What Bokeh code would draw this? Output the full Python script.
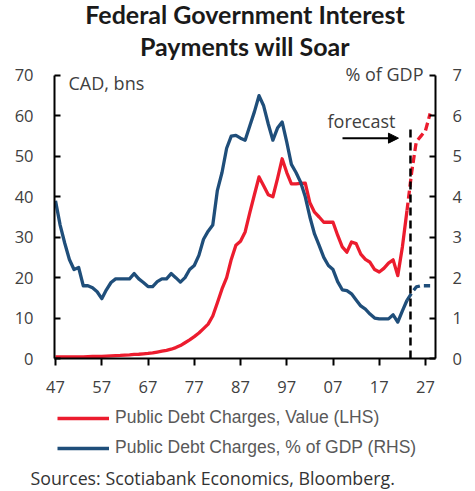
from bokeh.plotting import figure
from bokeh.layouts import column
from bokeh.models import (Range1d, LinearAxis, FixedTicker, Label, Arrow,
                          NormalHead, Legend, LegendItem, Title)
from bokeh.embed import file_html
from bokeh.resources import INLINE

# ---------------- data ----------------
years = list(range(1947, 2024))
value_bn = [
    0.4, 0.4, 0.4, 0.4, 0.4, 0.4, 0.4, 0.45, 0.5, 0.5,          # 47-56
    0.55, 0.6, 0.65, 0.7, 0.75, 0.85, 0.9, 1.0, 1.05, 1.15,      # 57-66
    1.25, 1.4, 1.6, 1.8, 2.0, 2.3, 2.7, 3.2, 3.9, 4.6,           # 67-76
    5.4, 6.3, 7.4, 8.5, 10.5, 13.8, 17.2, 20.0, 24.5, 28.0,      # 77-86
    29.0, 31.3, 36.0, 40.5, 44.9, 42.7, 40.5, 40.0, 44.5, 49.4,  # 87-96
    46.0, 43.2, 43.2, 43.3, 43.4, 38.5, 36.2, 35.0, 33.7, 33.7,  # 97-06
    33.7, 30.5, 27.6, 26.3, 28.8, 28.4, 25.8, 24.5, 23.8, 22.0,  # 07-16
    21.4, 22.3, 23.6, 24.4, 20.5, 27.6, 36.6,                    # 17-23
]
pct_gdp = [
    3.9, 3.3, 2.85, 2.45, 2.2, 2.25, 1.8, 1.8, 1.75, 1.65,       # 47-56
    1.48, 1.7, 1.88, 1.97, 1.97, 1.97, 1.97, 2.1, 1.97, 1.88,    # 57-66
    1.78, 1.78, 1.9, 1.97, 1.97, 2.1, 2.0, 1.89, 2.0, 2.2,       # 67-76
    2.3, 2.55, 2.95, 3.15, 3.3, 4.16, 4.6, 5.2, 5.5, 5.52,       # 77-86
    5.45, 5.4, 5.75, 6.1, 6.5, 6.25, 5.8, 5.4, 5.7, 5.85,        # 87-96
    5.35, 4.8, 4.6, 4.36, 4.0, 3.5, 3.08, 2.8, 2.5, 2.3,         # 97-06
    2.2, 1.9, 1.7, 1.68, 1.6, 1.45, 1.3, 1.22, 1.1, 1.0,         # 07-16
    0.98, 0.98, 0.98, 1.08, 0.9, 1.18, 1.44,                     # 17-23
]
fc_years = [2023, 2024, 2025, 2026, 2027, 2028]
fc_value_bn = [36.6, 46.0, 53.6, 55.0, 56.4, 60.6]
fc_pct_gdp = [1.44, 1.62, 1.77, 1.8, 1.8, 1.8]

tick_years = [1947, 1957, 1967, 1977, 1987, 1997, 2007, 2017, 2027]
tick_labels = ["47", "57", "67", "77", "87", "97", "07", "17", "27"]
left_ticks = [0, 10, 20, 30, 40, 50, 60, 70]
right_ticks = [0, 1, 2, 3, 4, 5, 6, 7]
series_names = ["Public Debt Charges, Value (LHS)", "Public Debt Charges, % of GDP (RHS)"]

forecast_x = 2023.75
forecast_top = 57.2

RED = "#EC1C2E"
BLUE = "#1F4E7A"
TXT = "#404040"
FONT = "Open Sans"
TITLE_FONT = "Lato"
LW = 3.3
NAN = float("nan")

# ---------------- main chart ----------------
p = figure(width=475, height=403, output_backend="svg", toolbar_location=None,
           x_range=Range1d(1946.78, 2029.16), y_range=Range1d(0, 72.47),
           min_border_left=54, min_border_right=40, min_border_top=65,
           min_border_bottom=45)
p.extra_y_ranges = {"pct": Range1d(0, 7.247)}
p.xgrid.visible = False
p.ygrid.visible = False
p.outline_line_color = None
p.background_fill_color = "white"
p.border_fill_color = "white"

p.line(years, value_bn, line_color=RED, line_width=LW, line_join="round")
p.line(years, pct_gdp, y_range_name="pct", line_color=BLUE, line_width=LW,
       line_join="round")
p.line(fc_years, fc_value_bn, line_color=RED, line_width=LW, line_dash="8 4")
p.line(fc_years, fc_pct_gdp, y_range_name="pct", line_color=BLUE, line_width=LW,
       line_dash="8 4")

p.segment(x0=[forecast_x], y0=[0], x1=[forecast_x], y1=[forecast_top],
          line_color="black", line_width=2.5, line_dash="8 5")


def style_axis(ax, tin, tout):
    ax.axis_line_color = "black"
    ax.axis_line_width = 2
    ax.major_tick_line_color = "black"
    ax.major_tick_line_width = 2
    ax.major_tick_in = tin
    ax.major_tick_out = tout
    ax.minor_tick_line_color = None
    ax.major_label_text_font = FONT
    ax.major_label_text_font_size = "16.5px"
    ax.major_label_text_color = TXT


yl = p.yaxis[0]
yl.ticker = FixedTicker(ticks=left_ticks)
yl.bounds = (0, 70)
style_axis(yl, 6, 0)
yl.major_label_standoff = 21

yr = LinearAxis(y_range_name="pct", ticker=FixedTicker(ticks=right_ticks), bounds=(0, 7))
style_axis(yr, 6, 0)
yr.major_label_standoff = 17
p.add_layout(yr, "right")

xa = p.xaxis[0]
xa.ticker = FixedTicker(ticks=tick_years)
xa.major_label_overrides = {y: l for y, l in zip(tick_years, tick_labels)}
style_axis(xa, 0, 7)
xa.major_label_standoff = 15

t2 = Title(text="Payments will Soar", align="center", text_font=TITLE_FONT,
           text_font_size="25px", text_font_style="bold", text_color="#1a1a1a",
           standoff=10)
t1 = Title(text="Federal Government Interest", align="center", text_font=TITLE_FONT,
           text_font_size="25px", text_font_style="bold", text_color="#1a1a1a",
           standoff=-11)
p.add_layout(t2, "above")
p.add_layout(t1, "above")


def lab(fig, text, x, y, size, align="left", color=TXT):
    fig.add_layout(Label(x=x, y=y, x_units="screen", y_units="screen", text=text,
                         text_font=FONT, text_font_size=size, text_align=align,
                         text_baseline="middle", text_color=color))


lab(p, "CAD, bns", 14, 276, "18px")
lab(p, "% of GDP", 369, 285, "18px", "right")
lab(p, "forecast", 273, 238, "18px")

p.add_layout(Arrow(end=NormalHead(size=10, fill_color="black", line_color="black"),
                   x_start=forecast_x - 14.7, y_start=54.5,
                   x_end=forecast_x - 2.6, y_end=54.5,
                   line_color="black", line_width=2))

# ---------------- legend + source strip ----------------
q = figure(width=475, height=88, output_backend="svg", toolbar_location=None,
           x_range=Range1d(0, 1), y_range=Range1d(0, 1),
           x_axis_type=None, y_axis_type=None, min_border=0,
           min_border_bottom=28)
q.xgrid.visible = False
q.ygrid.visible = False
q.outline_line_color = None
q.background_fill_color = "white"
q.border_fill_color = "white"

k_red = q.line(x=[NAN], y=[NAN], line_color=RED, line_width=3.6)
k_blue = q.line(x=[NAN], y=[NAN], line_color=BLUE, line_width=3.6)
legend = Legend(items=[
    LegendItem(label=series_names[0], renderers=[k_red]),
    LegendItem(label=series_names[1], renderers=[k_blue]),
], location=(3, 5))
legend.border_line_color = None
legend.background_fill_alpha = 0
legend.padding = 0
legend.margin = 0
legend.spacing = 9
legend.glyph_width = 52
legend.glyph_height = 20
legend.label_height = 20
legend.label_standoff = 6
legend.label_text_font = "Liberation Sans"
legend.label_text_font_size = "17.5px"
legend.label_text_color = "#595959"
q.add_layout(legend)

src = Title(text="Sources: Scotiabank Economics, Bloomberg.", align="left", offset=-24,
            text_font=FONT, text_font_size="17.8px", text_font_style="normal",
            text_color="#333333", standoff=0)
q.add_layout(src, "below")

open("out.html", "w").write(file_html(column(p, q, spacing=0), INLINE))
